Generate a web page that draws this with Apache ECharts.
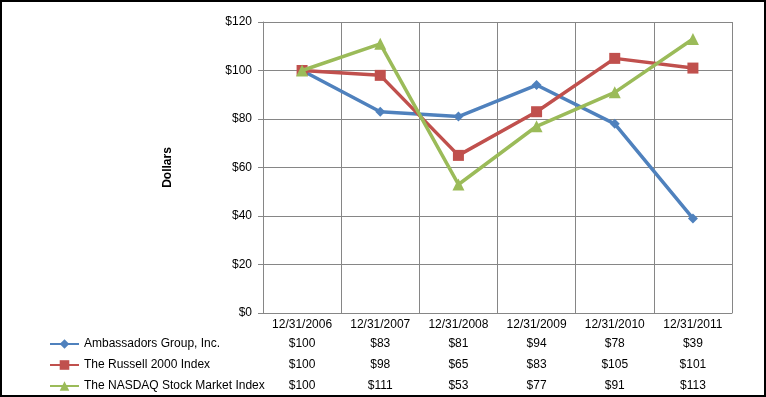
<!DOCTYPE html>
<html>
<head>
<meta charset="utf-8">
<script src="https://cdn.jsdelivr.net/npm/echarts@6/dist/echarts.min.js"></script>
<style>html,body{margin:0;padding:0;background:#fff}#c{width:766px;height:397px}</style>
</head>
<body>
<div id="c"></div>
<script>
const categories = ['12/31/2006','12/31/2007','12/31/2008','12/31/2009','12/31/2010','12/31/2011'];
const seriesNames = ['Ambassadors Group, Inc.','The Russell 2000 Index','The NASDAQ Stock Market Index'];
const ambassadors = [100, 83, 81, 94, 78, 39];
const russell = [100, 98, 65, 83, 105, 101];
const nasdaq = [100, 111, 53, 77, 91, 113];
const yTicks = {min: 0, max: 120, interval: 20};

const FONT = 'Liberation Sans';
const colors = ['#4F81BD', '#C0504D', '#9BBB59'];
const symbols = ['diamond', 'rect', 'triangle'];
const symbolSizes = [10, 11, 12];
const rows = [ambassadors, russell, nasdaq];

const chart = echarts.init(document.getElementById('c'));

const tableAxes = rows.map((row, k) => ({
  type: 'category',
  gridIndex: 0,
  position: 'bottom',
  offset: 19 + 21 * k,
  data: categories,
  boundaryGap: true,
  axisLine: {show: false},
  axisTick: {show: false},
  splitLine: {show: false},
  axisLabel: {
    interval: 0, margin: 6, color: '#000', fontFamily: FONT, fontSize: 12,
    formatter: (v, i) => '$' + row[i]
  }
}));

chart.setOption({
  animation: false,
  textStyle: {fontFamily: FONT},
  grid: {left: 263, right: 34, top: 22, bottom: 84},
  legend: {
    orient: 'vertical', left: 49, top: 338, padding: 0,
    itemWidth: 29, itemHeight: 12, itemGap: 9,
    textStyle: {color: '#000', fontFamily: FONT, fontSize: 12, lineHeight: 12},
    data: seriesNames
  },
  xAxis: [{
    type: 'category',
    data: categories,
    boundaryGap: true,
    axisLine: {lineStyle: {color: '#868686'}},
    axisTick: {show: false},
    splitLine: {show: true, lineStyle: {color: '#868686', width: 1}},
    axisLabel: {interval: 0, margin: 6, color: '#000', fontFamily: FONT, fontSize: 12}
  }].concat(tableAxes),
  yAxis: {
    type: 'value',
    min: yTicks.min, max: yTicks.max, interval: yTicks.interval,
    name: 'Dollars', nameLocation: 'middle', nameGap: 89, nameRotate: 90,
    nameTextStyle: {color: '#000', fontWeight: 'bold', fontFamily: FONT, fontSize: 12},
    axisLine: {show: true, lineStyle: {color: '#868686'}},
    axisTick: {show: true, length: 5, lineStyle: {color: '#868686'}},
    splitLine: {lineStyle: {color: '#868686', width: 1}},
    axisLabel: {margin: 11, color: '#000', fontFamily: FONT, fontSize: 12, formatter: v => '$' + v}
  },
  series: rows.map((row, k) => ({
    name: seriesNames[k],
    type: 'line',
    data: row,
    xAxisIndex: 0,
    symbol: symbols[k],
    symbolSize: symbolSizes[k],
    showAllSymbol: true,
    lineStyle: {color: colors[k], width: 3.5},
    itemStyle: {color: colors[k]},
    z: 3 + k
  })),
  graphic: [{
    type: 'rect',
    shape: {x: 1, y: 1, width: 764, height: 395},
    style: {fill: 'none', stroke: '#000', lineWidth: 2},
    silent: true, z: 100
  }]
});
</script>
</body>
</html>
